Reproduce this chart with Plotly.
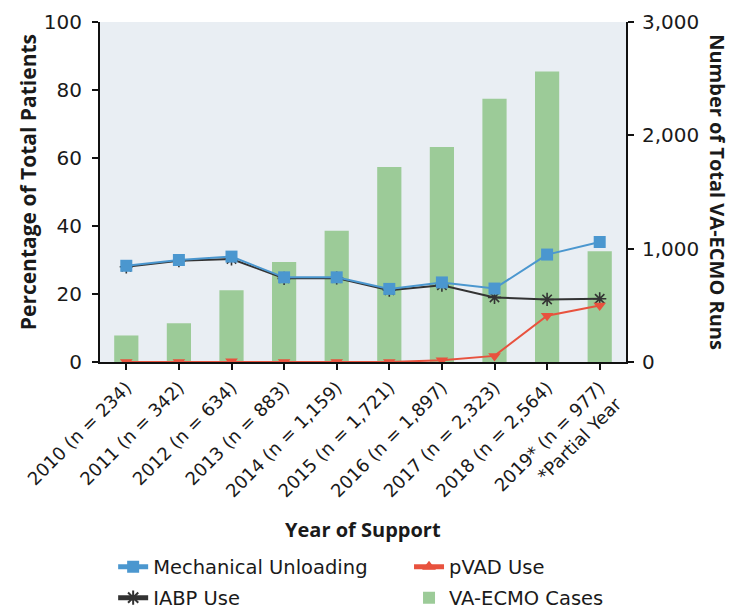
import plotly.graph_objects as go

# Registry data by year of support
years = ["2010", "2011", "2012", "2013", "2014", "2015", "2016", "2017", "2018", "2019*"]
runs = [234, 342, 634, 883, 1159, 1721, 1897, 2323, 2564, 977]
mech_unloading = [28.3, 30.0, 31.0, 24.9, 24.9, 21.5, 23.4, 21.6, 31.6, 35.3]
iabp_use = [28.0, 29.8, 30.3, 24.6, 24.7, 21.1, 22.6, 19.0, 18.4, 18.6]
pvad_use = [0.0, 0.0, 0.2, 0.0, 0.0, 0.0, 0.5, 1.8, 13.6, 16.6]
footnote = "*Partial Year"

tick_text = [f"{y} (n = {n:,})" for y, n in zip(years, runs)]
tick_text[-1] = tick_text[-1] + "<br>" + footnote

WIDE = "DejaVu Sans"
TITLE = "Open Sans"
BLUE = "#4b97cf"
RED = "#e8523e"
DARK = "#333333"
GREEN = "#9ccb98"
INK = "#1a1a1a"

fig = go.Figure()

fig.add_trace(go.Bar(
    x=tick_text, y=runs, name="VA-ECMO Cases", yaxis="y",
    marker=dict(color=GREEN, line=dict(width=0)), width=0.46,
    legend="legend4",
))
fig.add_trace(go.Scatter(
    x=tick_text, y=iabp_use, name="IABP Use", yaxis="y2", mode="lines+markers",
    line=dict(color=DARK, width=2),
    marker=dict(symbol="asterisk-open", size=11, line=dict(color=DARK, width=1.6)),
    legend="legend3",
))
fig.add_trace(go.Scatter(
    x=tick_text, y=pvad_use, name="pVAD Use", yaxis="y2", mode="lines+markers",
    line=dict(color=RED, width=2),
    marker=dict(symbol="triangle-down", size=11, color=RED),
    showlegend=False,
))
# legend key for pVAD drawn with an upward triangle
fig.add_trace(go.Scatter(
    x=[None], y=[None], name="pVAD Use", yaxis="y2", mode="lines+markers",
    line=dict(color=RED, width=2),
    marker=dict(symbol="triangle-up", size=11, color=RED),
    legend="legend2",
))
fig.add_trace(go.Scatter(
    x=tick_text, y=mech_unloading, name="Mechanical Unloading", yaxis="y2",
    mode="lines+markers",
    line=dict(color=BLUE, width=2),
    marker=dict(symbol="square", size=12, color=BLUE),
    legend="legend",
))

axis_common = dict(
    showline=True, linecolor="#111111", linewidth=2,
    ticks="outside", ticklen=6, tickwidth=2, tickcolor="#111111",
    showgrid=False, zeroline=False, automargin=False,
)

legend_common = dict(
    orientation="h", xanchor="left", yanchor="middle",
    font=dict(family=WIDE, size=19.5, color=INK),
    bgcolor="rgba(0,0,0,0)", itemsizing="constant",
)
col1, col2 = 0.025, 0.5875
row1, row2 = -0.603, -0.694

fig.update_layout(
    width=733, height=612,
    margin=dict(l=100, r=107, t=22, b=250, autoexpand=False),
    paper_bgcolor="white",
    plot_bgcolor="#e9eef3",
    font=dict(family=WIDE, size=18, color=INK),
    xaxis=dict(
        **axis_common,
        type="category", range=[-0.5, 9.5], tickangle=-45,
        tickfont=dict(family=WIDE, size=18),
    ),
    yaxis=dict(
        **axis_common,
        side="right", range=[0, 3000], tickvals=[0, 1000, 2000, 3000],
        tickformat=",", tickfont=dict(family=WIDE, size=20), ticklabelstandoff=4,
    ),
    yaxis2=dict(
        **axis_common,
        overlaying="y", side="left", range=[0, 100], tickvals=[0, 20, 40, 60, 80, 100],
        tickfont=dict(family=WIDE, size=20), ticklabelstandoff=6,
    ),
    legend=dict(**legend_common, x=col1, y=row1),
    legend2=dict(**legend_common, x=col2, y=row1),
    legend3=dict(**legend_common, x=col1, y=row2),
    legend4=dict(**legend_common, x=col2, y=row2),
    annotations=[
        dict(text="<b>Percentage of Total Patients</b>", xref="paper", yref="paper",
             x=-0.138, y=0.53, xanchor="center", yanchor="middle", textangle=-90,
             showarrow=False, font=dict(family=TITLE, size=21)),
        dict(text="<b>Number of Total VA-ECMO Runs</b>", xref="paper", yref="paper",
             x=1.1745, y=0.5, xanchor="center", yanchor="middle", textangle=90,
             showarrow=False, font=dict(family=TITLE, size=20)),
        dict(text="<b>Year of Support</b>", xref="paper", yref="paper",
             x=0.5, y=-0.494, xanchor="center", yanchor="middle",
             showarrow=False, font=dict(family=TITLE, size=20)),
    ],
)

fig.write_html("out.html")
